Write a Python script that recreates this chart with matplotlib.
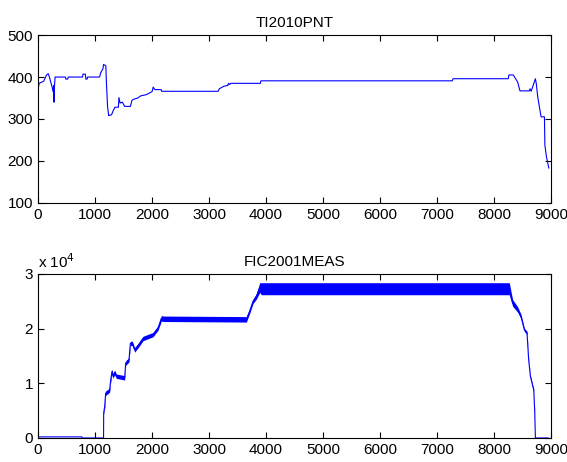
import matplotlib
matplotlib.use('Agg')
import matplotlib.pyplot as plt
import numpy as np

plt.rcParams['font.family'] = ['Liberation Sans', 'DejaVu Sans']
plt.rcParams['font.size'] = 11

# TI2010PNT trace
ti_x = [0, 20, 100, 150, 180, 200, 220, 250, 265, 275, 280, 290, 300, 480, 490, 520, 530, 780, 790,
        830, 840, 860, 870, 1080, 1100, 1140, 1150, 1190, 1200, 1220, 1240, 1290, 1320, 1350, 1410,
        1420, 1440, 1480, 1520, 1620, 1650, 1700, 1750, 1800, 1900, 2000, 2020, 2050, 2160,
        2170, 3160, 3180, 3260, 3330, 3340, 3360, 3380, 3900, 3910, 7267, 7280, 8248, 8260,
        8336, 8413, 8454, 8618, 8630, 8650, 8695, 8724, 8740, 8765, 8794, 8824, 8883, 8890,
        8918, 8941, 8959]
ti_y = [370, 385, 390, 405, 408, 400, 390, 375, 365, 380, 340, 380, 400, 400, 395, 395, 400, 400, 407,
        407, 395, 395, 400, 400, 410, 420, 430, 427, 388, 330, 308, 310, 320, 328, 328,
        351, 338, 340, 330, 330, 345, 348, 350, 355, 358, 365, 376, 370, 370,
        366, 366, 372, 378, 380, 385, 382, 385, 385, 391, 391, 396, 396, 405,
        405, 388, 367, 367, 372, 366, 384, 396, 384, 353, 329, 305, 305, 238,
        210, 195, 183]

# FIC2001MEAS trace: centre line and noise half-width
fic_x = [0, 770, 772, 1150, 1152, 1170, 1187, 1228, 1257, 1275, 1298, 1316, 1345, 1374, 1520,
         1538, 1596, 1620, 1655, 1696, 1784, 1842, 2017, 2105, 2164, 2200, 3655, 3713, 3772,
         3830, 3889, 3918, 8266, 8325, 8413, 8472, 8530, 8577, 8606, 8636, 8677, 8695, 8712,
         8724, 8740, 8950]
fic_y = [200, 200, 0, 0, 4600, 5800, 8200, 8500, 8800, 10600, 12200, 11300, 12000, 11300, 11000,
         13700, 14300, 17300, 17300, 16100, 17300, 18200, 18900, 20100, 21900, 21800, 21700, 23200, 25000,
         25900, 27500, 27300, 27300, 24700, 23500, 22200, 19800, 19200, 14300, 11300, 9500, 8800, 4900,
         0, 0, 0]
fic_w = [0, 0, 0, 0, 300, 400, 400, 400, 400, 400, 400, 400, 400, 400, 400,
         400, 400, 400, 400, 400, 400, 400, 400, 400, 500, 500, 500, 400, 400,
         500, 900, 1100, 1100, 600, 500, 400, 300, 300, 200, 200, 200, 200, 200,
         0, 0, 0]

fig = plt.figure(figsize=(5.67, 4.62), dpi=100)

ax1 = fig.add_axes([0.067, 0.561, 0.905, 0.363])
ax1.plot(ti_x, ti_y, color='#0000ff', lw=0.8)
ax1.set_xlim(0, 9000)
ax1.set_ylim(100, 500)
ax1.set_yticks([100, 200, 300, 400, 500])
ax1.set_title('TI2010PNT', fontsize=11, pad=6)

ax2 = fig.add_axes([0.067, 0.052, 0.905, 0.355])
fy = np.array(fic_y)
fw = np.array(fic_w)
ax2.fill_between(fic_x, fy - fw, fy + fw, color='#0000ff', lw=0)
ax2.plot(fic_x, fic_y, color='#0000ff', lw=0.8)
ax2.set_xlim(0, 9000)
ax2.set_ylim(0, 30000)
ax2.set_yticks([0, 10000, 20000, 30000])
ax2.set_yticklabels(['0', '1', '2', '3'])
ax2.set_title('FIC2001MEAS', fontsize=11, pad=6)
ax2.text(0.0, 1.02, 'x 10$^4$', transform=ax2.transAxes, fontsize=11, ha='left', va='bottom')

for ax in (ax1, ax2):
    ax.set_xticks(range(0, 9001, 1000))
    ax.tick_params(direction='in', top=True, right=True, length=4, width=0.8, labelsize=11)
    for s in ax.spines.values():
        s.set_linewidth(0.8)

fig.savefig('out.png', dpi=100)
